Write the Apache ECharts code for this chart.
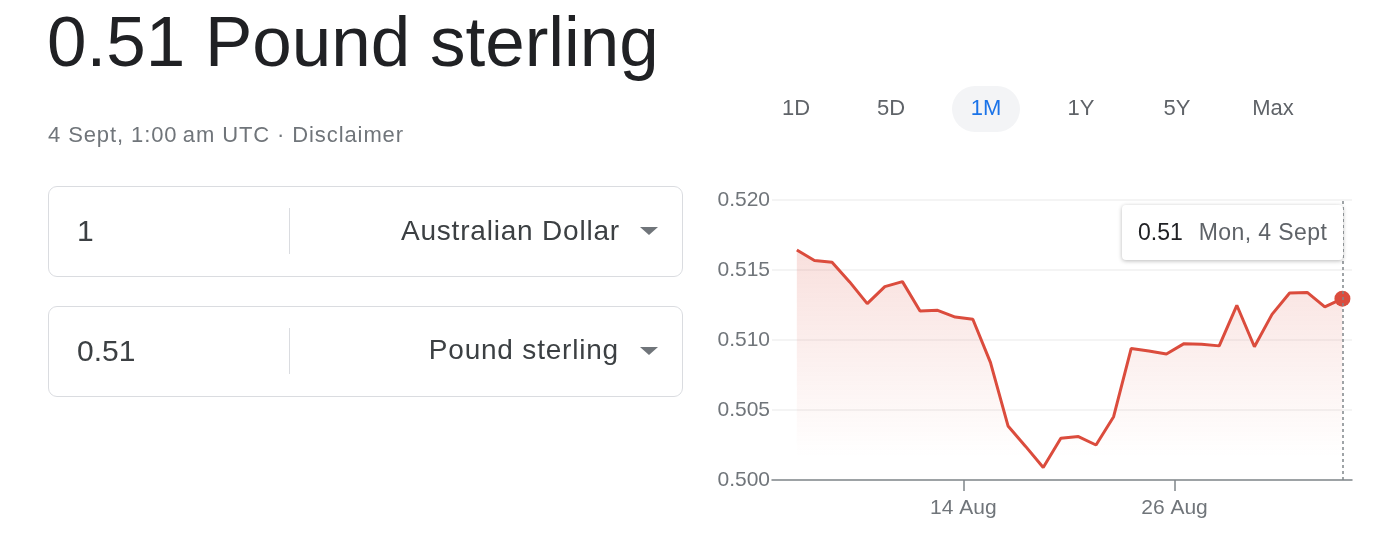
<!DOCTYPE html>
<html>
<head>
<meta charset="utf-8">
<script src="https://cdn.jsdelivr.net/npm/echarts@6/dist/echarts.min.js"></script>
<style>
  html, body { margin: 0; padding: 0; background: #fff; }
  body { width: 1390px; height: 552px; position: relative; overflow: hidden;
         font-family: "Liberation Sans", Arial, sans-serif; }
  #chart { position: absolute; left: 0; top: 0; width: 1390px; height: 552px; }
  .t { position: absolute; line-height: 1; white-space: nowrap; }
  .box { position: absolute; left: 48px; width: 635px; height: 91px; box-sizing: border-box;
         border: 1px solid #dadce0; border-radius: 9px; }
  .div { position: absolute; left: 289px; width: 1px; height: 46px; background: #dadce0; }
  .arrow { position: absolute; left: 640px; width: 0; height: 0;
           border-left: 9px solid transparent; border-right: 9px solid transparent;
           border-top: 8px solid #70757a; }
  .btn { position: absolute; top: 95px; width: 80px; text-align: center; font-size: 22px; color: #5f6368; }
  .pill { position: absolute; left: 952px; top: 86px; width: 68px; height: 46px; border-radius: 23px; background: #f3f4f6; }
</style>
</head>
<body>
<div id="chart"></div>

<div class="t" style="left:47px; top:6px; font-size:71px; color:#202124;">0.51 Pound sterling</div>
<div class="t" style="left:48px; top:124px; font-size:22px; letter-spacing:0.9px; color:#70757a;">4 Sept, 1:00&#8201;am UTC · Disclaimer</div>

<div class="box" style="top:186px;"></div>
<div class="div" style="top:208px;"></div>
<div class="t" style="left:77px; top:216px; font-size:30px; color:#3c4043;">1</div>
<div class="t" style="right:770px; top:217px; font-size:28px; letter-spacing:0.8px; color:#3c4043;">Australian Dollar</div>
<div class="arrow" style="top:227px;"></div>

<div class="box" style="top:306px;"></div>
<div class="div" style="top:328px;"></div>
<div class="t" style="left:77px; top:336px; font-size:30px; color:#3c4043;">0.51</div>
<div class="t" style="right:771px; top:336px; font-size:28px; letter-spacing:0.8px; color:#3c4043;">Pound sterling</div>
<div class="arrow" style="top:347px;"></div>

<div class="pill"></div>
<div class="btn" style="left:756px;">1D</div>
<div class="btn" style="left:851px;">5D</div>
<div class="btn" style="left:946px; color:#1a73e8;">1M</div>
<div class="btn" style="left:1041px;">1Y</div>
<div class="btn" style="left:1137px;">5Y</div>
<div class="btn" style="left:1233px;">Max</div>

<script>
// ---- data ----
const dates = [
  '2023-08-04','2023-08-05','2023-08-06','2023-08-07','2023-08-08','2023-08-09','2023-08-10','2023-08-11',
  '2023-08-12','2023-08-13','2023-08-14','2023-08-15','2023-08-16','2023-08-17','2023-08-18','2023-08-19',
  '2023-08-20','2023-08-21','2023-08-22','2023-08-23','2023-08-24','2023-08-25','2023-08-26','2023-08-27',
  '2023-08-28','2023-08-29','2023-08-30','2023-08-31','2023-09-01','2023-09-02','2023-09-03','2023-09-04'
];
const rates = [
  0.51643, 0.51568, 0.51556, 0.51415, 0.51260, 0.51381, 0.51417, 0.51207,
  0.51212, 0.51164, 0.51148, 0.50840, 0.50386, 0.50240, 0.50089, 0.50298,
  0.50310, 0.50250, 0.50452, 0.50940, 0.50921, 0.50900, 0.50974, 0.50969,
  0.50958, 0.51248, 0.50952, 0.51183, 0.51336, 0.51340, 0.51236, 0.51295
];
const sampleTime = 'T13:00:00Z';
const tickDates = ['2023-08-14', '2023-08-26'];
const tickLabels = ['14 Aug', '26 Aug'];
const yTicks = { min: 0.500, max: 0.520, step: 0.005 };
const axisRange = ['2023-08-03T03:08:00Z', '2023-09-05T02:04:00Z'];
const tooltipDate = 'Mon, 4 Sept';

// ---- build ----
const seriesData = dates.map((d, i) => [Date.parse(d + sampleTime), rates[i]]);
const tickValues = tickDates.map(d => Date.parse(d + 'T00:00:00Z'));
const last = seriesData[seriesData.length - 1];
const red = '#db4c3d';

const chart = echarts.init(document.getElementById('chart'), null, { renderer: 'canvas' });
chart.setOption({
  animation: false,
  textStyle: { fontFamily: '"Liberation Sans", Arial, sans-serif' },
  grid: { left: 772, right: 38, top: 200, bottom: 72, containLabel: false },
  xAxis: {
    type: 'value',
    min: Date.parse(axisRange[0]),
    max: Date.parse(axisRange[1]),
    axisLine: { show: true, lineStyle: { color: '#80868b', width: 1.5 } },
    axisTick: { show: true, customValues: tickValues, length: 11, lineStyle: { color: '#80868b', width: 1.5 } },
    axisLabel: {
      customValues: tickValues,
      margin: 18,
      fontSize: 21,
      color: '#70757a',
      formatter: v => { const i = tickValues.indexOf(v); return i >= 0 ? tickLabels[i] : ''; }
    },
    splitLine: { show: false }
  },
  yAxis: {
    type: 'value',
    min: yTicks.min, max: yTicks.max, interval: yTicks.step,
    axisLine: { show: false }, axisTick: { show: false },
    axisLabel: { fontSize: 21, color: '#70757a', margin: 2, formatter: v => v.toFixed(3) },
    splitLine: { lineStyle: { color: '#f1f1f1', width: 1.5 } }
  },
  tooltip: {
    trigger: 'axis',
    alwaysShowContent: true,
    transitionDuration: 0,
    position: [1122, 205],
    backgroundColor: '#ffffff',
    borderWidth: 0,
    padding: [14, 16],
    extraCssText: 'box-shadow:0 1px 4px rgba(0,0,0,0.28);border-radius:4px;line-height:27px;',
    textStyle: { fontSize: 23, fontFamily: '"Liberation Sans", Arial, sans-serif' },
    axisPointer: { type: 'line', snap: true, label: { show: false }, lineStyle: { color: '#80868b', width: 1.5, type: [3, 3] } },
    formatter: () => '<span style="color:#202124">' + rates[rates.length - 1].toFixed(2) +
      '</span><span style="color:#5f6368;margin-left:16px;letter-spacing:0.4px">' + tooltipDate + '</span>'
  },
  series: [
    {
      type: 'line',
      data: seriesData,
      symbol: 'none',
      showSymbol: false,
      lineStyle: { color: red, width: 3 },
      itemStyle: { color: red },
      emphasis: { disabled: true },
      areaStyle: {
        color: new echarts.graphic.LinearGradient(0, 0, 0, 1, [
          { offset: 0, color: 'rgba(219,76,61,0.25)' },
          { offset: 0.9, color: 'rgba(219,76,61,0.0)' },
          { offset: 1, color: 'rgba(219,76,61,0.0)' }
        ])
      },
      z: 2
    },
    {
      type: 'scatter',
      data: [last],
      symbol: 'circle',
      symbolSize: 16,
      itemStyle: { color: red, opacity: 1 },
      emphasis: { disabled: true },
      z: 3
    }
  ]
});
chart.dispatchAction({ type: 'showTip', seriesIndex: 0, dataIndex: seriesData.length - 1 });
</script>
</body>
</html>
